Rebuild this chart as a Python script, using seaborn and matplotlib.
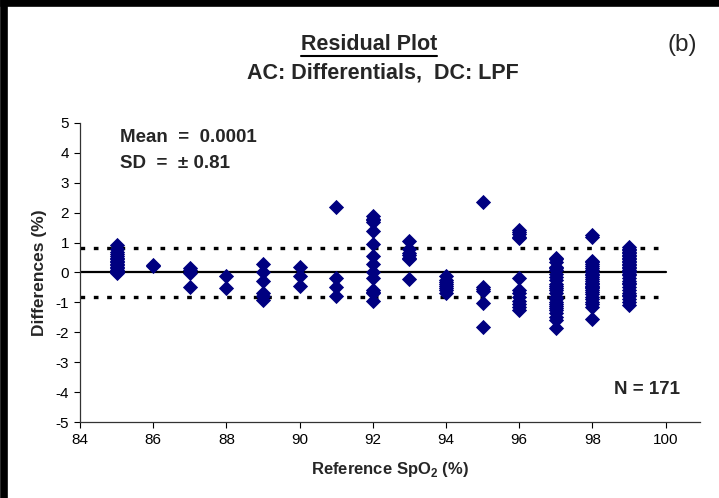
import numpy as np
import pandas as pd
import seaborn as sns
import matplotlib.pyplot as plt
from matplotlib.lines import Line2D

# differences (%), grouped by reference SpO2 (%)
ref_85 = [0.91, 0.78, 0.7, 0.62, 0.55, 0.5, 0.45, 0.4, 0.35, 0.3, 0.25, 0.2,
          0.15, 0.1, 0.05, 0.0, -0.03]
ref_86 = [0.22, 0.25]
ref_87 = [0.15, 0.1, -0.03, -0.48]
ref_88 = [-0.11, -0.51]
ref_89 = [0.30, 0.02, -0.29, -0.68, -0.8, -0.93]
ref_90 = [0.19, -0.11, -0.46]
ref_91 = [2.19, -0.2, -0.48, -0.78]
ref_92 = [1.88, 1.8, 1.75, 1.69, 1.38, 0.95, 0.55, 0.28, 0.0, -0.2, -0.59,
          -0.65, -0.7, -0.96]
ref_93 = [1.05, 0.8, 0.65, 0.6, 0.5, 0.44, -0.22]
ref_94 = [-0.11, -0.25, -0.31, -0.4, -0.46, -0.52, -0.59, -0.68]
ref_95 = [2.36, -0.48, -0.55, -0.63, -1.01, -1.82]
ref_96 = [1.41, 1.35, 1.28, 1.2, 1.14, -0.2, -0.59, -0.7, -0.81, -0.95,
          -1.04, -1.15, -1.26]
ref_97 = [0.5, 0.45, 0.35, 0.2, 0.15, 0.1, -0.05, -0.15, -0.26, -0.37,
          -0.45, -0.52, -0.59, -0.7, -0.81, -0.9, -1.0, -1.04, -1.12, -1.2,
          -1.26, -1.37, -1.48, -1.6, -1.84]
ref_98 = [1.25, 1.19, 0.4, 0.35, 0.3, 0.22, 0.15, 0.08, 0.02, -0.05, -0.15,
          -0.22, -0.3, -0.37, -0.45, -0.52, -0.59, -0.65, -0.72, -0.81, -0.9,
          -0.97, -1.05, -1.15, -0.5, -0.35, -0.1, -1.54]
ref_99 = [0.86, 0.8, 0.75, 0.7, 0.65, 0.6, 0.55, 0.5, 0.45, 0.4, 0.35, 0.3,
          0.25, 0.2, 0.15, 0.1, 0.05, 0.0, -0.05, -0.1, -0.2, -0.3, -0.35,
          -0.4, -0.5, -0.6, -0.7, -0.75, -0.8, -0.9, -1.0, -1.09]

columns = {85: ref_85, 86: ref_86, 87: ref_87, 88: ref_88, 89: ref_89,
           90: ref_90, 91: ref_91, 92: ref_92, 93: ref_93, 94: ref_94,
           95: ref_95, 96: ref_96, 97: ref_97, 98: ref_98, 99: ref_99}

sd = 0.81
x_ticks = list(range(84, 101, 2))
y_ticks = list(range(-5, 6))

df = pd.DataFrame([(x, d) for x, vals in columns.items() for d in vals],
                  columns=['reference', 'difference'])

sns.set_style('ticks')
plt.rcParams['font.family'] = ['Liberation Sans', 'DejaVu Sans']
plt.rcParams['axes.unicode_minus'] = False

W, H = 719, 498
fig = plt.figure(figsize=(W / 100, H / 100), dpi=100)
ax = fig.add_axes([80 / W, 1 - 422 / H, 620 / W, 299 / H])

sns.scatterplot(data=df, x='reference', y='difference', marker='D',
                color='#000080', s=60, linewidth=0, ax=ax, zorder=3)

ax.plot([84, 100], [0, 0], color='black', lw=1.6, zorder=2)
for lvl in (sd, -sd):
    ax.plot([84, 100], [lvl, lvl], color='black', lw=2.4,
            linestyle=(0, (1.4, 2.6)), dash_capstyle='butt', zorder=2)

ax.set_xlim(84, 100.94)
ax.set_ylim(-5, 5)
ax.set_xticks(x_ticks)
ax.set_yticks(y_ticks)
ax.tick_params(direction='out', length=4, width=0.8, labelsize=11,
               colors='black', pad=4)
sns.despine(ax=ax)
for s in ('left', 'bottom'):
    ax.spines[s].set_linewidth(0.9)
    ax.spines[s].set_color('#333333')

ax.set_xlabel('Reference SpO$_\\mathregular{2}$ (%)', fontsize=12,
              fontweight='bold', labelpad=9)
ax.set_ylabel('Differences (%)', fontsize=12.5, fontweight='bold', labelpad=6)


def fxy(x, y):
    return x / W, 1 - y / H


title = fig.text(*fxy(369, 45), 'Residual Plot', ha='center', va='center',
                 fontsize=15.5, fontweight='bold')
fig.text(*fxy(383, 73), 'AC: Differentials,  DC: LPF', ha='center',
         va='center', fontsize=15.5, fontweight='bold')
fig.text(*fxy(682, 45), '(b)', ha='center', va='center', fontsize=17.5)
fig.text(*fxy(120, 137), 'Mean  =  0.0001', ha='left', va='center',
         fontsize=13.5, fontweight='bold')
fig.text(*fxy(120, 163), 'SD  =  \u00b1 0.81', ha='left', va='center',
         fontsize=13.5, fontweight='bold')
fig.text(*fxy(680, 390), 'N = 171', ha='right', va='center', fontsize=13.5,
         fontweight='bold')

# underline the title
fig.canvas.draw()
bb = title.get_window_extent()
uy = bb.y0 - 1.0
fig.add_artist(Line2D([bb.x0 / W, bb.x1 / W], [uy / H, uy / H],
                      transform=fig.transFigure, color='black', lw=1.5))

# thick frame at the left and top edges
fig.add_artist(Line2D([3.5 / W, 3.5 / W], [0, 1 - 3.5 / H],
                      transform=fig.transFigure, color='black', lw=5.5,
                      solid_capstyle='projecting'))
fig.add_artist(Line2D([3.5 / W, 1], [1 - 3.5 / H, 1 - 3.5 / H],
                      transform=fig.transFigure, color='black', lw=5.5,
                      solid_capstyle='projecting'))

fig.savefig('out.png', dpi=100)
